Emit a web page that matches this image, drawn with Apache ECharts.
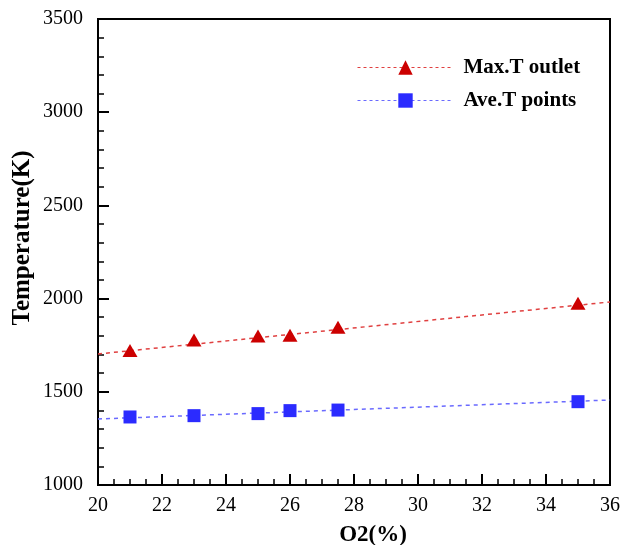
<!DOCTYPE html>
<html>
<head>
<meta charset="utf-8">
<script src="https://cdn.jsdelivr.net/npm/echarts@6/dist/echarts.min.js"></script>
<style>
html,body{margin:0;padding:0;background:#fff;}
#chart{width:621px;height:545px;}
</style>
</head>
<body>
<div id="chart"></div>
<script>
// O2 (%) values
const o2 = [21, 23, 25, 26, 27.5, 35];
// Max.T outlet (K)
const maxT = [1721, 1778, 1799, 1803, 1846, 1975];
// Ave.T points (K)
const aveT = [1365, 1372, 1383, 1399, 1402, 1447];
// Dashed trend line endpoints
const trendX = [20, 36];
const maxTrend = [1703, 1982];
const aveTrend = [1354, 1456];

const serif = 'Liberation Serif';
const pair = (xs, ys) => xs.map((x, i) => [x, ys[i]]);

const chart = echarts.init(document.getElementById('chart'));
chart.setOption({
  animation: false,
  backgroundColor: '#fff',
  grid: {
    left: 98, top: 19, right: 11, bottom: 60,
    outerBoundsMode: 'none', containLabel: false,
    show: true, borderColor: '#000', borderWidth: 2, backgroundColor: 'transparent'
  },
  legend: {
    orient: 'vertical',
    left: 352, top: 52,
    itemWidth: 96, itemHeight: 18, itemGap: 12,
    textStyle: { fontFamily: serif, fontWeight: 'bold', fontSize: 21, color: '#000', padding: [0, 0, 0, 5] },
    data: [
      { name: 'Max.T outlet', lineStyle: { opacity: 1, type: [3, 3], color: '#e04040', width: 1 } },
      { name: 'Ave.T points', lineStyle: { opacity: 1, type: [3, 3], color: '#6a6aff', width: 1 } }
    ]
  },
  xAxis: {
    type: 'value', min: 20, max: 36, interval: 2,
    name: 'O2(%)', nameLocation: 'middle', nameGap: 39,
    nameTextStyle: { fontFamily: serif, fontWeight: 'bold', fontSize: 23, color: '#000', padding: [0, 0, 0, 38] },
    axisLine: { show: true, lineStyle: { color: '#000', width: 2 } },
    axisTick: { show: true, inside: true, length: 11, lineStyle: { color: '#000', width: 2 } },
    minorTick: { show: true, splitNumber: 4, length: 6, lineStyle: { color: '#000', width: 1.5 } },
    splitLine: { show: false },
    axisLabel: { fontFamily: serif, fontSize: 20, color: '#000', margin: 11 }
  },
  yAxis: {
    type: 'value', min: 1000, max: 3500, interval: 500,
    name: 'Temperature(K)', nameLocation: 'middle', nameGap: 63, nameMoveOverlap: false,
    nameTextStyle: { fontFamily: serif, fontWeight: 'bold', fontSize: 25, color: '#000', padding: [0, 0, 0, 28] },
    axisLine: { show: true, lineStyle: { color: '#000', width: 2 } },
    axisTick: { show: true, inside: true, length: 11, lineStyle: { color: '#000', width: 2 } },
    minorTick: { show: true, splitNumber: 5, length: 6, lineStyle: { color: '#000', width: 1.5 } },
    splitLine: { show: false },
    axisLabel: { fontFamily: serif, fontSize: 20, color: '#000', margin: 15, formatter: v => String(v) }
  },
  series: [
    {
      name: 'Max.T trend', type: 'line', data: pair(trendX, maxTrend),
      symbol: 'none', z: 1,
      lineStyle: { color: '#e04040', width: 1.5, type: [4, 4] }
    },
    {
      name: 'Ave.T trend', type: 'line', data: pair(trendX, aveTrend),
      symbol: 'none', z: 1,
      lineStyle: { color: '#6a6aff', width: 1.5, type: [4, 4] }
    },
    {
      name: 'Max.T outlet', type: 'line', data: pair(o2, maxT),
      symbol: 'triangle', symbolSize: [15, 13], z: 3,
      itemStyle: { color: '#cc0000' },
      lineStyle: { opacity: 0 }
    },
    {
      name: 'Ave.T points', type: 'line', data: pair(o2, aveT),
      symbol: 'rect', symbolSize: 13, z: 3,
      itemStyle: { color: '#2b2bff' },
      lineStyle: { opacity: 0 }
    }
  ]
});
</script>
</body>
</html>
